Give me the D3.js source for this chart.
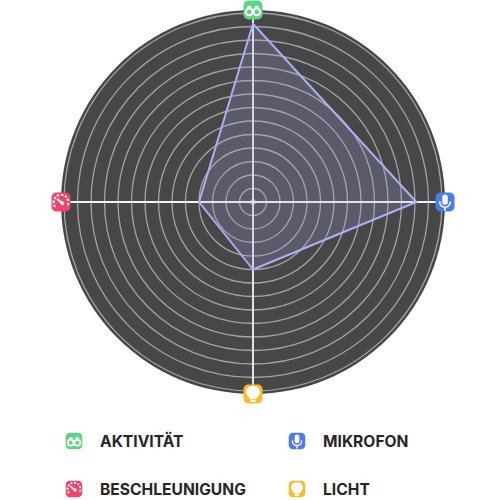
<!DOCTYPE html>
<html>
<head>
<meta charset="utf-8">
<script src="https://cdn.jsdelivr.net/npm/d3@7"></script>
<style>
  body { margin: 0; background: #fff; }
  svg { display: block; }
</style>
</head>
<body>
<div id="chart"></div>
<script>
// axes clockwise from top
var axes = ["AKTIVITÄT", "MIKROFON", "LICHT", "BESCHLEUNIGUNG"];
var values = [132, 121, 50, 40];
var ringTicks = [10, 20, 30, 40, 50, 60, 70, 80, 90, 100, 110, 120, 130, 140];
var iconKeys = ["binoculars", "mic", "bulb", "gauge"];
var iconColors = ["#5bd585", "#4b7bf3", "#fbbc2a", "#f2446b"];
// legend order (row by row)
var legendOrder = [0, 1, 3, 2];

var width = 500, height = 500;
var cx = 253, cy = 202;

var svg = d3.select("#chart")
  .append("svg")
    .attr("width", width)
    .attr("height", height);

var r = d3.scaleLinear()
  .domain([0, 140])
  .range([0, 189]);

var angle = d3.scalePoint()
  .domain(axes)
  .range([0, 2 * Math.PI * 3 / 4]);

var g = svg.append("g")
  .attr("transform", "translate(" + cx + "," + cy + ")");

// background disc
g.append("circle")
  .attr("r", r(140) + 3)
  .attr("fill", "#474747");

// rings
g.selectAll(".ring")
  .data(ringTicks)
  .enter()
  .append("circle")
    .attr("class", "ring")
    .attr("r", function(d) { return r(d); })
    .attr("fill", "none")
    .attr("stroke", "#a4a4a4")
    .attr("stroke-width", 1.3);

g.append("circle")
  .attr("r", 2.5)
  .attr("fill", "none")
  .attr("stroke", "#bbb")
  .attr("stroke-width", 1);

// axis lines
g.selectAll(".axis")
  .data(axes)
  .enter()
  .append("line")
    .attr("class", "axis")
    .attr("x1", 0).attr("y1", 0)
    .attr("x2", function(d) { return Math.sin(angle(d)) * (r(140) + 3); })
    .attr("y2", function(d) { return -Math.cos(angle(d)) * (r(140) + 3); })
    .attr("stroke", "#f4f4f4")
    .attr("stroke-width", 1.8);

// data polygon
var line = d3.lineRadial()
  .angle(function(d, i) { return angle(axes[i]); })
  .radius(function(d) { return r(d); })
  .curve(d3.curveLinearClosed);

g.append("path")
  .datum(values)
  .attr("d", line)
  .attr("fill", "rgba(160,160,225,0.22)")
  .attr("stroke", "#aeaef4")
  .attr("stroke-width", 2)
  .attr("stroke-linejoin", "round");

// icons
function drawIcon(sel, key, color, s) {
  sel.append("rect")
    .attr("x", -s / 2).attr("y", -s / 2)
    .attr("width", s).attr("height", s)
    .attr("rx", s * 0.25)
    .attr("fill", color);
  var k = s / 18;
  var ic = sel.append("g").attr("transform", "scale(" + k + ")");
  if (key == "binoculars") {
    ic.append("path")
      .attr("d", "M-5,-4 L-2,-4 L-1,-1 L1,-1 L2,-4 L5,-4 L6,0 L-6,0 Z")
      .attr("fill", "#fff");
    ic.append("circle").attr("cx", -3.6).attr("cy", 1.8).attr("r", 3.2)
      .attr("fill", color).attr("stroke", "#fff").attr("stroke-width", 2);
    ic.append("circle").attr("cx", 3.6).attr("cy", 1.8).attr("r", 3.2)
      .attr("fill", color).attr("stroke", "#fff").attr("stroke-width", 2);
  } else if (key == "mic") {
    ic.append("rect").attr("x", -2.6).attr("y", -7).attr("width", 5.2).attr("height", 9.5)
      .attr("rx", 2.6).attr("fill", "#fff");
    ic.append("path").attr("d", "M-5,0 A5,5 0 0 0 5,0 M0,5 L0,7.5")
      .attr("fill", "none").attr("stroke", "#fff").attr("stroke-width", 1.6)
      .attr("stroke-linecap", "round");
  } else if (key == "bulb") {
    ic.append("path")
      .attr("d", "M0,-7.5 C4.5,-7.5 6.5,-4.5 6.5,-1.5 C6.5,1.5 3.5,3 3,5 L-3,5 C-3.5,3 -6.5,1.5 -6.5,-1.5 C-6.5,-4.5 -4.5,-7.5 0,-7.5 Z")
      .attr("fill", "#fff");
    ic.append("rect").attr("x", -2.5).attr("y", 5.8).attr("width", 5).attr("height", 1.8)
      .attr("rx", 0.8).attr("fill", "#fff");
  } else if (key == "gauge") {
    ic.append("path").attr("d", "M-5.5,4.5 A7,7 0 1 1 5.5,4.5")
      .attr("fill", "none").attr("stroke", "#fff").attr("stroke-width", 2)
      .attr("stroke-dasharray", "2.2,1.6");
    ic.append("path").attr("d", "M-3.2,-2.5 L1.2,1.2")
      .attr("stroke", "#fff").attr("stroke-width", 2).attr("stroke-linecap", "round");
    ic.append("circle").attr("cx", 1.2).attr("cy", 1.2).attr("r", 1.8).attr("fill", "#fff");
  }
}

g.selectAll(".axisIcon")
  .data(axes)
  .enter()
  .append("g")
    .attr("class", "axisIcon")
    .attr("transform", function(d) {
      var a = angle(d), rr = r(140) + 3;
      return "translate(" + (Math.sin(a) * rr) + "," + (-Math.cos(a) * rr) + ")";
    })
    .each(function(d, i) { drawIcon(d3.select(this), iconKeys[i], iconColors[i], 19); });

// legend
var legendX = d3.scalePoint().domain([0, 1]).range([74, 297]);
var legendY = d3.scalePoint().domain([0, 1]).range([441, 489]);

var leg = svg.selectAll(".legend")
  .data(legendOrder)
  .enter()
  .append("g")
    .attr("class", "legend")
    .attr("transform", function(d, j) {
      return "translate(" + legendX(j % 2) + "," + legendY(Math.floor(j / 2)) + ")";
    });

leg.each(function(d) { drawIcon(d3.select(this), iconKeys[d], iconColors[d], 16.5); });

leg.append("text")
  .attr("x", 26)
  .attr("y", 0)
  .attr("dy", "0.36em")
  .attr("font-family", "Inter, 'DejaVu Sans', sans-serif")
  .attr("font-weight", 700)
  .attr("font-size", 15.6)
  .attr("fill", "#262626")
  .text(function(d) { return axes[d]; });
</script>
</body>
</html>
